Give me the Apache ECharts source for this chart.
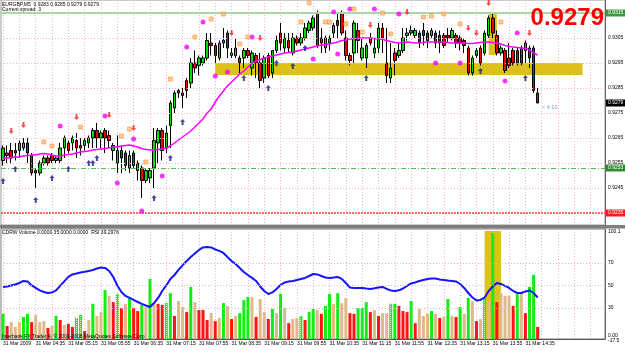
<!DOCTYPE html>
<html><head><meta charset="utf-8">
<script src="https://cdn.jsdelivr.net/npm/echarts@6/dist/echarts.min.js"></script>
<style>html,body{margin:0;padding:0;background:#fff}#c{width:625px;height:352px}</style>
</head><body><div id="c"></div>
<script>
// ---------- data ----------
const symbolName = 'EURGBP,M5';
const spreadText = 'Current spread: 3';
const tickLabels = ['31 Mar 2009','31 Mar 04:35','31 Mar 05:15','31 Mar 05:55','31 Mar 06:35','31 Mar 07:15','31 Mar 07:55','31 Mar 08:35','31 Mar 09:15','31 Mar 09:55','31 Mar 10:35','31 Mar 11:15','31 Mar 11:55','31 Mar 12:35','31 Mar 13:15','31 Mar 13:55','31 Mar 14:35'];
const slotCount = 148;            // bars that fit in the window (incl. empty space at right)
const firstBarMinutes = 3*60+55;  // 03:55
// [open, close, low, high]
const ohlc = [
[0.9256,0.9261,0.9254,0.9262],[0.9259,0.9258,0.9255,0.9262],[0.9260,0.9257,0.9255,0.9263],[0.9260,0.9259,0.9256,0.9263],[0.9260,0.9263,0.9257,0.9264],
[0.9261,0.9263,0.9260,0.9265],[0.9263,0.9259,0.9255,0.9265],[0.9258,0.9251,0.9250,0.9259],[0.9252,0.9251,0.9245,0.9253],[0.9251,0.9255,0.9250,0.9256],
[0.9255,0.9257,0.9254,0.9258],[0.9257,0.9255,0.9254,0.9258],[0.9258,0.9256,0.9255,0.9259],[0.9256,0.9257,0.9255,0.9258],[0.9256,0.9261,0.9255,0.9263],
[0.9261,0.9265,0.9257,0.9266],[0.9263,0.9260,0.9259,0.9264],[0.9263,0.9265,0.9260,0.9266],[0.9264,0.9261,0.9257,0.9267],[0.9262,0.9261,0.9258,0.9265],
[0.9262,0.9264,0.9260,0.9265],[0.9263,0.9265,0.9261,0.9266],[0.9265,0.9268,0.9261,0.9269],[0.9268,0.9265,0.9261,0.9271],[0.9265,0.9267,0.9261,0.9268],
[0.9268,0.9265,0.9259,0.9269],[0.9266,0.9264,0.9261,0.9268],[0.9260,0.9262,0.9256,0.9263],[0.9255,0.9260,0.9251,0.9266],[0.9260,0.9257,0.9251,0.9262],
[0.9259,0.9254,0.9252,0.9260],[0.9253,0.9258,0.9251,0.9260],[0.9259,0.9254,0.9253,0.9260],[0.9252,0.9255,0.9248,0.9256],[0.9253,0.9248,0.9241,0.9254],
[0.9248,0.9252,0.9247,0.9253],[0.9249,0.9252,0.9247,0.9253],[0.9253,0.9264,0.9245,0.9269],[0.9263,0.9268,0.9255,0.9269],[0.9268,0.9260,0.9256,0.9269],
[0.9261,0.9267,0.9259,0.9270],[0.9270,0.9279,0.9261,0.9280],[0.9277,0.9283,0.9275,0.9284],[0.9284,0.9283,0.9281,0.9285],[0.9283,0.9282,0.9277,0.9285],
[0.9288,0.9284,0.9281,0.9289],[0.9287,0.9295,0.9285,0.9297],[0.9295,0.9293,0.9291,0.9300],[0.9294,0.9297,0.9290,0.9298],[0.9295,0.9297,0.9294,0.9298],
[0.9297,0.9304,0.9296,0.9307],[0.9303,0.9302,0.9298,0.9307],[0.9302,0.9298,0.9295,0.9303],[0.9297,0.9303,0.9296,0.9304],[0.9303,0.9304,0.9301,0.9309],
[0.9307,0.9301,0.9297,0.9308],[0.9298,0.9299,0.9297,0.9301],[0.9298,0.9301,0.9297,0.9305],[0.9297,0.9295,0.9291,0.9298],[0.9297,0.9300,0.9293,0.9301],
[0.9300,0.9298,0.9297,0.9301],[0.9293,0.9299,0.9290,0.9300],[0.9298,0.9295,0.9289,0.9299],[0.9295,0.9288,0.9285,0.9299],[0.9289,0.9297,0.9287,0.9298],
[0.9298,0.9290,0.9289,0.9299],[0.9291,0.9300,0.9289,0.9300],[0.9300,0.9304,0.9299,0.9306],[0.9307,0.9303,0.9300,0.9311],[0.9301,0.9305,0.9299,0.9307],
[0.9304,0.9301,0.9299,0.9307],[0.9299,0.9305,0.9298,0.9307],[0.9305,0.9303,0.9302,0.9306],[0.9303,0.9305,0.9302,0.9307],[0.9305,0.9309,0.9304,0.9311],
[0.9308,0.9311,0.9307,0.9312],[0.9309,0.9313,0.9308,0.9314],[0.9315,0.9302,0.9301,0.9316],[0.9305,0.9303,0.9299,0.9309],[0.9301,0.9305,0.9299,0.9306],
[0.9303,0.9305,0.9300,0.9306],[0.9307,0.9310,0.9305,0.9311],[0.9312,0.9310,0.9305,0.9315],[0.9315,0.9307,0.9306,0.9316],[0.9305,0.9298,0.9296,0.9308],
[0.9298,0.9296,0.9294,0.9299],[0.9299,0.9311,0.9295,0.9312],[0.9308,0.9304,0.9299,0.9311],[0.9297,0.9301,0.9296,0.9305],[0.9297,0.9302,0.9293,0.9303],
[0.9305,0.9303,0.9302,0.9307],[0.9299,0.9301,0.9297,0.9305],[0.9301,0.9309,0.9299,0.9311],[0.9309,0.9305,0.9299,0.9311],[0.9295,0.9290,0.9287,0.9309],
[0.9289,0.9293,0.9287,0.9303],[0.9299,0.9296,0.9290,0.9301],[0.9298,0.9300,0.9297,0.9303],[0.9300,0.9305,0.9299,0.9309],[0.9306,0.9307,0.9304,0.9309],
[0.9307,0.9308,0.9306,0.9310],[0.9306,0.9308,0.9305,0.9309],[0.9307,0.9303,0.9301,0.9308],[0.9308,0.9306,0.9302,0.9311],[0.9307,0.9304,0.9301,0.9308],
[0.9306,0.9308,0.9305,0.9309],[0.9307,0.9303,0.9301,0.9308],[0.9306,0.9303,0.9299,0.9308],[0.9306,0.9302,0.9301,0.9307],[0.9306,0.9305,0.9303,0.9309],
[0.9305,0.9308,0.9304,0.9309],[0.9306,0.9303,0.9301,0.9307],[0.9305,0.9303,0.9300,0.9306],[0.9304,0.9302,0.9299,0.9305],[0.9301,0.9291,0.9290,0.9302],
[0.9291,0.9297,0.9290,0.9298],[0.9298,0.9300,0.9297,0.9301],[0.9301,0.9295,0.9294,0.9302],[0.9299,0.9307,0.9298,0.9308],[0.9306,0.9313,0.9305,0.9314],
[0.9313,0.9307,0.9305,0.9315],[0.9306,0.9299,0.9298,0.9308],[0.9299,0.9301,0.9298,0.9302],[0.9300,0.9292,0.9291,0.9301],[0.9297,0.9294,0.9293,0.9303],
[0.9300,0.9295,0.9294,0.9301],[0.9300,0.9295,0.9294,0.9301],[0.9301,0.9295,0.9294,0.9302],[0.9300,0.9303,0.9295,0.9304],[0.9301,0.9297,0.9293,0.9302],
[0.9301,0.9284,0.9283,0.9302],[0.9283,0.9279,0.9279,0.9285]
];
const movingAvg = [0.92570,0.92570,0.92572,0.92574,0.92574,0.92578,0.92580,0.92582,0.92582,0.92586,
0.92588,0.92586,0.92582,0.92578,0.92578,0.92582,0.92584,0.92586,0.92590,0.92594,
0.92596,0.92598,0.92602,0.92604,0.92606,0.92608,0.92610,0.92614,0.92614,0.92618,
0.92620,0.92622,0.92618,0.92614,0.92608,0.92604,0.92602,0.92602,0.92604,0.92606,
0.92610,0.92618,0.92630,0.92642,0.92654,0.92666,0.92678,0.92694,0.92710,0.92726,
0.92750,0.92766,0.92794,0.92818,0.92838,0.92858,0.92874,0.92890,0.92906,0.92918,
0.92934,0.92950,0.92958,0.92964,0.92970,0.92974,0.92978,0.92982,0.92986,0.92990,
0.92992,0.92994,0.92998,0.93002,0.93006,0.93010,0.93014,0.93018,0.93022,0.93024,
0.93026,0.93030,0.93034,0.93040,0.93042,0.93046,0.93048,0.93050,0.93050,0.93050,
0.93050,0.93048,0.93046,0.93044,0.93040,0.93036,0.93032,0.93030,0.93032,0.93034,
0.93032,0.93030,0.93030,0.93032,0.93034,0.93034,0.93034,0.93034,0.93034,0.93032,
0.93030,0.93030,0.93030,0.93030,0.93028,0.93028,0.93030,0.93032,0.93034,0.93034,
0.93032,0.93030,0.93026,0.93020,0.93016,0.93014,0.93012,0.93010,0.93008,0.93002,
0.92990,0.92982];
const magentaDots = [[49,0.93114],[45,0.93014],[25,0.92738],[14,0.92698],[32,0.92646],[28,0.92470],[39,0.92498],[34,0.92358],[52,0.92898],[55,0.92914],[61,0.93054],[76,0.92966],[82,0.92986],[81,0.93154],[85,0.93166],[91,0.93166],[97,0.93146],[106,0.92950],[112,0.92950],[123,0.92878],[126,0.93070]];
const orangeMarks = [[47,0.93054],[41,0.92886],[19,0.92694],[10,0.92634],[12,0.92618],[29,0.92658],[31,0.92686],[35,0.92554],[75,0.93190],[54,0.93146],[51,0.93126],[86,0.93166],[93,0.93150],[60,0.93054],[58,0.93026],[73,0.93114],[79,0.93114],[80,0.93114],[84,0.93106],[88,0.93074],[95,0.93066],[103,0.93134],[105,0.93138],[108,0.93146],[112,0.93106],[122,0.93114]];
const sellArrows = [[2,0.92678],[5,0.92702],[18,0.92734],[26,0.92742],[32,0.92690],[56,0.93070],[63,0.93050],[90,0.93102],[99,0.93154],[119,0.93190],[114,0.93090],[116,0.93070],[129,0.93070]];
const buyArrows = [[3,0.92526],[0,0.92478],[16,0.92526],[21,0.92550],[22,0.92550],[23,0.92570],[12,0.92490],[8,0.92402],[37,0.92410],[41,0.92570],[44,0.92714],[59,0.92890],[65,0.92850],[67,0.92950],[71,0.92938],[74,0.93010],[89,0.92890],[117,0.92918],[128,0.92890]];
const priceGrid = [0.9315,0.9305,0.9295,0.9285,0.9275,0.9265,0.9255,0.9245,0.9235];
const priceLabelled = [0.9305,0.9295,0.9285,0.9275,0.9265,0.9255,0.9245];
const resistanceLevel = 0.9315;
const supportLevel = 0.9253;
const stopLevel = 0.9235;
const zoneTop = 0.92950, zoneBottom = 0.92902, zoneFrom = 52, zoneTo = 142;
const spikeTop = 0.93146, spikeBottom = 0.92982, spikeFrom = 119, spikeTo = 121;
const volume = [73,38,49,35,49,64,73,49,70,49,
52,32,38,67,55,41,44,35,61,70,
23,55,102,67,78,142,125,107,131,90,
102,119,90,81,99,93,174,104,102,99,
104,133,67,110,93,78,151,107,84,84,
55,75,52,61,104,96,58,67,75,113,
122,122,64,116,78,58,87,75,131,90,
46,58,61,67,55,78,87,84,73,96,
131,102,133,104,119,75,73,90,90,107,
78,84,67,75,75,102,102,96,81,78,
110,46,87,67,73,81,73,61,64,116,
67,64,93,73,119,110,52,58,122,110,
307,107,133,125,125,96,131,133,75,151,
186,35];
// G up, R down, T weak, D dotted green
const volumeKind = 'GRTTTGGRTT'+'TRTGRTRRDD'+'RTGTTGTRDR'+'TGRRGTGTRR'+'DGRTTRGTRR'+'RTRTGTRTGG'+'GTRTTRGTGT'+'RTTDRGGTRG'+'GTGTTRRGGG'+'RTRTTDGRRR'+'GRTTTGTRTG'+'TRGTGTRTDT'+'GRTTTRGTRG'+'GR';
const rsi = [48.7,49.1,50.0,50.9,52.2,54.0,53.6,50.0,47.8,45.6,
44.2,43.3,43.8,45.6,49.6,53.6,57.6,59.8,60.7,61.6,
62.2,62.9,63.8,65.1,66.0,65.6,62.9,57.6,50.0,44.2,
40.7,38.9,37.1,35.3,33.6,32.2,30.9,34.4,38.9,45.1,
50.0,55.8,59.3,63.8,67.8,71.8,75.3,78.4,81.6,83.8,
84.2,83.8,82.0,80.7,78.9,75.3,71.8,69.1,65.6,62.0,
59.3,56.7,54.0,49.1,45.1,42.4,43.8,46.9,50.4,52.7,
53.6,54.0,54.9,55.8,56.7,58.4,60.2,59.8,58.4,57.1,
56.7,57.1,57.6,55.8,52.2,48.2,47.8,47.8,47.8,47.3,
46.9,47.5,48.2,48.7,46.9,45.6,45.1,45.7,47.3,49.6,
51.8,52.7,54.0,54.9,55.8,56.2,56.2,55.3,54.9,54.4,
54.0,53.6,51.3,47.8,43.3,39.3,36.7,37.1,39.3,45.1,
49.1,52.2,51.3,49.6,47.8,45.1,43.3,43.3,44.7,45.6,
43.3,39.3];
const rsiLevels = [70,50,30];
const rsiMin = 2.4, rsiMax = 100.2;
const volSpikeFrom = 118, volSpikeTo = 122, volSpikeTop = 98.4;
const timeLeft = '< 4:10';
const indicatorTitle = 'CDRW Volume 0.0000 35.0000 0.0000  RSI 39.2976';
const copyright = 'Interbank FX Trader 4, \u00a9 2001-2008 MetaQuotes Software Corp.';
const subScaleTop = '100.1', subScaleBottom = '0.00', subScaleBottom2 = '-17.5';

// ---------- chart ----------
const FF = "'Liberation Sans', Arial, sans-serif";
const pad2 = n => (n < 10 ? '0' : '') + n;
const cats = [];
for (let i = 0; i < slotCount; i++) { const m = firstBarMinutes + 5 * i; cats.push(pad2(Math.floor(m / 60)) + ':' + pad2(m % 60)); }
const last = ohlc[ohlc.length - 1];
const f4 = v => v.toFixed(4);
const gridColor = '#ecb6cc';
const labelEvery = (i) => i % 8 === 0 && i / 8 < tickLabels.length;
const gridEvery = (i) => i % 4 === 0;
const kindStyle = {
  G: { color: '#11ee11' },
  R: { color: '#ff1414' },
  T: { color: '#dfb98a' },
  D: { color: '#11ee11', decal: { symbol: 'rect', symbolSize: 1, color: 'rgba(255,255,255,0.85)', dashArrayX: [1, 1], dashArrayY: [1, 1], rotation: 0 } }
};
const volData = volume.map((v, i) => ({ value: v, itemStyle: kindStyle[volumeKind[i]] }));
const upArrow = 'path://M5,0L10,5H7V10H3V5H0Z';
const downArrow = 'path://M3,0H7V5H10L5,10L0,5H3Z';
const boxLabel = (bg, fg) => ({ show: true, position: 'end', distance: 1, fontSize: 5, fontFamily: FF, color: fg, backgroundColor: bg, padding: [1, 2, 1, 2] });
const headerText = symbolName + '  ' + f4(last[0]) + ' ' + f4(last[3]) + ' ' + f4(last[2]) + ' ' + f4(last[1]);

const chart = echarts.init(document.getElementById('c'), null, { renderer: 'canvas' });
chart.setOption({
  animation: false,
  backgroundColor: '#ffffff',
  grid: [
    { left: 1, top: 0, width: 604, height: 225, show: true, borderColor: '#9a9a9a', borderWidth: 1 },
    { left: 1, top: 229, width: 604, height: 110, show: true, borderColor: '#7a7a7a', borderWidth: 1 }
  ],
  xAxis: [
    { type: 'category', gridIndex: 0, data: cats, boundaryGap: true,
      axisLine: { show: false }, axisTick: { show: false }, axisLabel: { show: false },
      splitLine: { show: true, interval: gridEvery, alignWithLabel: true, lineStyle: { color: gridColor, type: [1, 2], width: 1 } } },
    { type: 'category', gridIndex: 1, data: cats, boundaryGap: true,
      axisLine: { show: true, lineStyle: { color: '#555', width: 1 } }, axisTick: { show: false },
      axisLabel: { show: true, interval: labelEvery, align: 'left', margin: 2, fontSize: 5, fontFamily: FF, color: '#000',
        formatter: (v, i) => tickLabels[i / 8] },
      splitLine: { show: true, interval: gridEvery, alignWithLabel: true, lineStyle: { color: gridColor, type: [1, 2], width: 1 } } }
  ],
  yAxis: [
    { type: 'value', gridIndex: 0, position: 'right', min: 0.92302, max: 0.93202,
      axisLine: { show: true, lineStyle: { color: '#666' } }, axisTick: { show: false }, axisLabel: { show: false }, splitLine: { show: false } },
    { type: 'value', gridIndex: 1, position: 'right', min: rsiMin, max: rsiMax,
      axisLine: { show: true, lineStyle: { color: '#666' } }, axisTick: { show: false }, axisLabel: { show: false }, splitLine: { show: false } },
    { type: 'value', gridIndex: 1, min: 0, max: 319, show: false }
  ],
  series: [
    { type: 'line', name: 'grid', xAxisIndex: 0, yAxisIndex: 0, data: [], z: 1, silent: true,
      markArea: { silent: true, precision: 6, itemStyle: { color: '#dcc01c' },
        data: [
          [{ xAxis: zoneFrom, yAxis: zoneTop }, { xAxis: zoneTo, yAxis: zoneBottom }],
          [{ xAxis: spikeFrom, yAxis: spikeTop }, { xAxis: spikeTo, yAxis: spikeBottom }]
        ] },
      markLine: { silent: true, precision: 6, symbol: ['none', 'none'], animation: false,
        lineStyle: { color: gridColor, type: [1, 2], width: 1 },
        data: priceGrid.map(v => ({ yAxis: v,
          label: priceLabelled.includes(v) ? { show: true, position: 'end', distance: 3, fontSize: 5, fontFamily: FF, color: '#000', formatter: f4(v) } : { show: false } })) } },
    { type: 'candlestick', name: symbolName, xAxisIndex: 0, yAxisIndex: 0, data: ohlc, barWidth: 3, z: 3,
      itemStyle: { color: '#00dd00', color0: '#ee0000', borderColor: '#000', borderColor0: '#000', borderWidth: 1 } },
    { type: 'line', name: 'MA', xAxisIndex: 0, yAxisIndex: 0, data: movingAvg, symbol: 'none', z: 4,
      lineStyle: { color: '#ff00ff', width: 1.5 } },
    { type: 'scatter', name: 'dots', data: magentaDots, symbol: 'circle', symbolSize: 5, z: 5, itemStyle: { color: '#ff00ff' } },
    { type: 'scatter', name: 'marks', data: orangeMarks, symbol: 'rect', symbolSize: 4, z: 5, itemStyle: { color: '#ffbe88', borderColor: '#ff9530', borderWidth: 0.8 } },
    { type: 'scatter', name: 'sell', data: sellArrows, symbol: downArrow, symbolSize: [5, 6], z: 5, itemStyle: { color: '#ff2020' } },
    { type: 'scatter', name: 'buy', data: buyArrows, symbol: upArrow, symbolSize: [5, 6], z: 5, itemStyle: { color: '#1c1c80' } },
    { type: 'line', name: 'levels', xAxisIndex: 0, yAxisIndex: 0, data: [], z: 6, silent: true,
      markLine: { silent: true, precision: 6, symbol: ['none', 'none'], animation: false,
        data: [
          { yAxis: resistanceLevel, lineStyle: { color: '#a9d6a9', width: 2, type: 'solid' }, label: Object.assign(boxLabel('#3b9b3b', '#fff'), { formatter: f4(resistanceLevel) }) },
          { yAxis: supportLevel, lineStyle: { color: '#5cb85c', width: 1, type: [5, 2, 1, 2] }, label: Object.assign(boxLabel('#2e8b2e', '#fff'), { formatter: f4(supportLevel) }) },
          { yAxis: stopLevel, lineStyle: { color: '#ff3c3c', width: 1.5, type: [2, 1] }, label: Object.assign(boxLabel('#ff1a1a', '#fff'), { formatter: f4(stopLevel) }) },
          { yAxis: last[1], lineStyle: { color: 'rgba(0,0,0,0)', width: 0 }, label: Object.assign(boxLabel('#000', '#fff'), { formatter: f4(last[1]) }) }
        ] } },
    { type: 'line', name: 'sublevels', xAxisIndex: 1, yAxisIndex: 1, data: [], z: 1, silent: true,
      markArea: { silent: true, precision: 4, itemStyle: { color: '#dcc01c' },
        data: [[{ xAxis: volSpikeFrom, yAxis: volSpikeTop }, { xAxis: volSpikeTo, yAxis: rsiMin }]] },
      markLine: { silent: true, precision: 4, symbol: ['none', 'none'], animation: false,
        lineStyle: { color: '#cdbcc8', type: [1, 2], width: 1 },
        data: rsiLevels.map(v => ({ yAxis: v, label: { show: true, position: 'end', distance: 3, fontSize: 5, fontFamily: FF, color: '#000', formatter: String(v) } })) } },
    { type: 'bar', name: 'CDRW Volume', xAxisIndex: 1, yAxisIndex: 2, data: volData, barWidth: 3, z: 3 },
    { type: 'line', name: 'RSI', xAxisIndex: 1, yAxisIndex: 1, data: rsi, symbol: 'none', z: 4,
      lineStyle: { color: '#1414ff', width: 2 } }
  ],
  graphic: [
    { type: 'rect', z: 100, shape: { x: 0, y: 225, width: 625, height: 3.5 }, style: { fill: '#7d7d7d' } },
    { type: 'text', z: 100, style: { x: 2, y: 4.5, text: headerText, fontSize: 5, fontFamily: FF, fill: '#000', verticalAlign: 'middle' } },
    { type: 'text', z: 100, style: { x: 2, y: 9.5, text: spreadText, fontSize: 5, fontFamily: FF, fill: '#000', verticalAlign: 'middle' } },
    { type: 'text', z: 100, style: { x: 604, y: 18.5, text: f4(last[1]), font: 'bold 24px ' + FF, fill: '#ff0000', align: 'right', verticalAlign: 'middle' } },
    { type: 'text', z: 100, style: { x: 542, y: 107, text: timeLeft, fontSize: 5.5, fontFamily: FF, fill: '#8a9cbc', verticalAlign: 'middle' } },
    { type: 'text', z: 100, style: { x: 2, y: 232.5, text: indicatorTitle, fontSize: 5, fontFamily: FF, fill: '#000', verticalAlign: 'middle' } },
    { type: 'text', z: 100, style: { x: 2, y: 337, text: copyright, fontSize: 5, fontFamily: FF, fill: '#000', verticalAlign: 'middle' } },
    { type: 'text', z: 100, style: { x: 608, y: 231.5, text: subScaleTop, fontSize: 5, fontFamily: FF, fill: '#000', verticalAlign: 'middle' } },
    { type: 'text', z: 100, style: { x: 608, y: 335.5, text: subScaleBottom, fontSize: 5, fontFamily: FF, fill: '#000', verticalAlign: 'middle' } },
    { type: 'text', z: 100, style: { x: 608, y: 340.5, text: subScaleBottom2, fontSize: 5, fontFamily: FF, fill: '#000', verticalAlign: 'middle' } }
  ]
});
</script></body></html>
